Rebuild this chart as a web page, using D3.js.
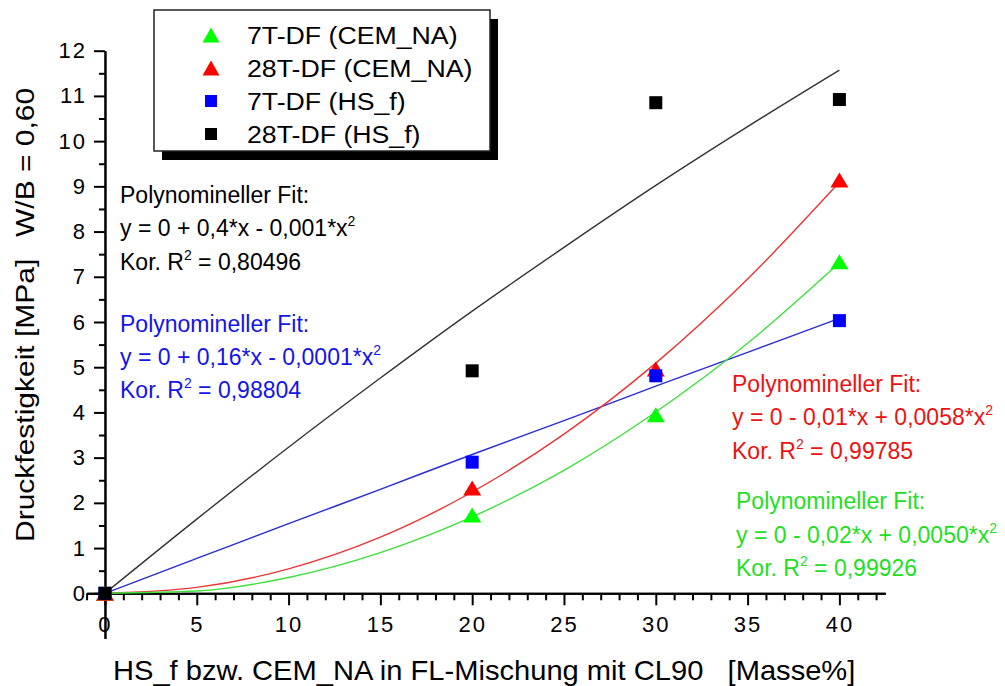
<!DOCTYPE html>
<html>
<head>
<meta charset="utf-8">
<script src="https://cdn.jsdelivr.net/npm/d3@7"></script>
<style>
  html, body { margin: 0; padding: 0; background: #fff; }
  svg { display: block; font-family: "Liberation Sans", Arial, Helvetica, sans-serif; }
  text { white-space: pre; }
</style>
</head>
<body>
<svg id="chart" width="1005" height="686"></svg>
<script>
// Compressive strength (MPa) vs. additive dosage (mass-%)
const dosage   = [0, 20, 30, 40];
const df7Cem   = [0, 1.73, 3.95, 7.33];
const df28Cem  = [0, 2.33, 4.96, 9.14];
const df7Hs    = [0, 2.90, 4.81, 6.03];
const df28Hs   = [0, 4.92, 10.85, 10.92];

// Quadratic fit curves, sampled along the dosage axis
const fitX     = [0, 5, 10, 15, 20, 25, 30, 35, 40];
const fit7Cem  = [0, 0.05, 0.35, 0.90, 1.69, 2.72, 4.01, 5.53, 7.31];
const fit28Cem = [0, 0.13, 0.54, 1.24, 2.24, 3.52, 5.09, 6.95, 9.09];
const fit7Hs   = [0, 0.77, 1.54, 2.30, 3.07, 3.82, 4.58, 5.33, 6.08];
const fit28Hs  = [0, 1.64, 3.23, 4.76, 6.24, 7.65, 9.02, 10.32, 11.57];

// Legend entries and fit annotations
const seriesNames  = ["7T-DF (CEM_NA)", "28T-DF (CEM_NA)", "7T-DF (HS_f)", "28T-DF (HS_f)"];
const fitTitle     = "Polynomineller Fit:";
const fitEquations = ["y = 0 - 0,02*x + 0,0050*x", "y = 0 - 0,01*x + 0,0058*x",
                      "y = 0 + 0,16*x - 0,0001*x", "y = 0 + 0,4*x - 0,001*x"];
const fitR2        = ["0,99926", "0,99785", "0,98804", "0,80496"];

// Axis ticks and titles
const xTicks = [0, 5, 10, 15, 20, 25, 30, 35, 40];
const yTicks = [0, 1, 2, 3, 4, 5, 6, 7, 8, 9, 10, 11, 12];
const xTitle = "HS_f bzw. CEM_NA in FL-Mischung mit CL90   [Masse%]";
const yTitleA = "Druckfestigkeit [MPa]";
const yTitleB = "W/B = 0,60";

const FONT = '"Liberation Sans", Arial, Helvetica, sans-serif';

const svg = d3.select("#chart");

const x = d3.scaleLinear().domain([-1, 42.5]).range([86.6, 885.3]);
const y = d3.scaleLinear().domain([-1, 12]).range([638.5, 50.7]);

// Series styling: marker shape, marker colour, curve colour, text colour
const series = [
  { name: seriesNames[0], vals: df7Cem,  fit: fit7Cem,  shape: "tri", fill: "#00ff00", line: "#3ee03e", text: "#1fe01f" },
  { name: seriesNames[1], vals: df28Cem, fit: fit28Cem, shape: "tri", fill: "#ff0000", line: "#e83535", text: "#ee1111" },
  { name: seriesNames[2], vals: df7Hs,   fit: fit7Hs,   shape: "sq",  fill: "#0000ff", line: "#2b2bd6", text: "#1414e6" },
  { name: seriesNames[3], vals: df28Hs,  fit: fit28Hs,  shape: "sq",  fill: "#000000", line: "#333333", text: "#000000" }
];

// ---------- axes ----------
const xMinor = d3.range(-1, 43).filter(v => v % 5 !== 0);
const yMinor = d3.range(0.5, 12, 1);

const gx = svg.append("g").attr("transform", `translate(0,${y(0)})`);
gx.append("g").call(d3.axisBottom(x).tickValues(xMinor).tickSize(7).tickSizeOuter(0).tickFormat(""));
gx.append("g").call(d3.axisBottom(x).tickValues(xTicks).tickSize(12).tickSizeOuter(0).tickPadding(11));

const gy = svg.append("g").attr("transform", `translate(${x(0)},0)`);
gy.append("g").call(d3.axisLeft(y).tickValues(yMinor).tickSize(6).tickSizeOuter(0).tickFormat(""));
gy.append("g").call(d3.axisLeft(y).tickValues(yTicks).tickSize(11).tickSizeOuter(0).tickPadding(7));

svg.selectAll(".domain").attr("stroke", "#000").attr("stroke-width", 2);
svg.selectAll(".tick line").attr("stroke", "#000").attr("stroke-width", 2);
svg.selectAll(".tick text")
  .attr("fill", "#000")
  .style("font-family", FONT)
  .style("font-size", "22px")
  .style("letter-spacing", "2px");

// ---------- fit curves ----------
const curve = d3.line().x((d, i) => x(fitX[i])).y(d => y(d)).curve(d3.curveMonotoneX);
[3, 2, 1, 0].forEach(k => {
  svg.append("path")
    .attr("d", curve(series[k].fit))
    .attr("fill", "none")
    .attr("stroke", series[k].line)
    .attr("stroke-width", 1.4);
});

// ---------- markers ----------
function triPath(w, h) {
  return `M0,${-h / 2}L${w / 2},${h / 2}L${-w / 2},${h / 2}Z`;
}
function drawMarker(g, s, cx, cy, big) {
  if (s.shape === "tri") {
    const w = big ? 18 : 17, h = 15;
    g.append("path").attr("d", triPath(w, h))
      .attr("transform", `translate(${cx},${cy})`)
      .attr("fill", s.fill);
  } else {
    const a = big ? 13 : 12;
    g.append("rect").attr("x", cx - a / 2).attr("y", cy - a / 2)
      .attr("width", a).attr("height", a).attr("fill", s.fill);
  }
}
const gm = svg.append("g");
series.forEach(s => {
  s.vals.forEach((v, i) => drawMarker(gm, s, x(dosage[i]), y(v), true));
});

// ---------- fit annotations ----------
function fitBlock(s, k, tx, baselines) {
  const g = svg.append("g").attr("fill", s.text).style("font-family", FONT).style("font-size", "23px");
  g.append("text").attr("x", tx).attr("y", baselines[0]).text(fitTitle);
  const eq = g.append("text").attr("x", tx).attr("y", baselines[1]);
  eq.append("tspan").text(fitEquations[k]);
  eq.append("tspan").attr("dy", -10).style("font-size", "14px").text("2");
  const r2 = g.append("text").attr("x", tx).attr("y", baselines[2]);
  r2.append("tspan").text("Kor. R");
  r2.append("tspan").attr("dy", -10).style("font-size", "14px").text("2");
  r2.append("tspan").attr("dy", 10).text(" = " + fitR2[k]);
}
fitBlock(series[3], 3, 120, [203, 236, 270]);
fitBlock(series[2], 2, 120, [332, 365, 398]);
fitBlock(series[1], 1, 732, [392, 425, 459]);
fitBlock(series[0], 0, 736, [509, 543, 576]);

// ---------- legend ----------
const lg = svg.append("g");
lg.append("rect").attr("x", 162).attr("y", 19).attr("width", 336).attr("height", 141).attr("fill", "#000");
lg.append("rect").attr("x", 154).attr("y", 10).attr("width", 336).attr("height", 141)
  .attr("fill", "#fff").attr("stroke", "#222").attr("stroke-width", 1.5);
series.forEach((s, i) => {
  const cy = 35 + i * 33;
  drawMarker(lg, s, 211, cy, false);
  lg.append("text")
    .attr("transform", `translate(247,${cy + 9}) scale(1.09,1)`)
    .style("font-family", FONT).style("font-size", "24.5px")
    .attr("fill", "#000")
    .text(s.name);
});

// ---------- axis titles ----------
svg.append("text")
  .attr("transform", `translate(113,680) scale(1.04,1)`)
  .style("font-family", FONT).style("font-size", "28px")
  .attr("fill", "#000")
  .text(xTitle);

svg.append("text")
  .attr("transform", `translate(34,542) rotate(-90) scale(1.2,1)`)
  .style("font-family", FONT).style("font-size", "25px")
  .attr("fill", "#000")
  .text(yTitleA);
svg.append("text")
  .attr("transform", `translate(34,237) rotate(-90) scale(1.2,1)`)
  .style("font-family", FONT).style("font-size", "25px")
  .attr("fill", "#000")
  .text(yTitleB);
</script>
</body>
</html>
